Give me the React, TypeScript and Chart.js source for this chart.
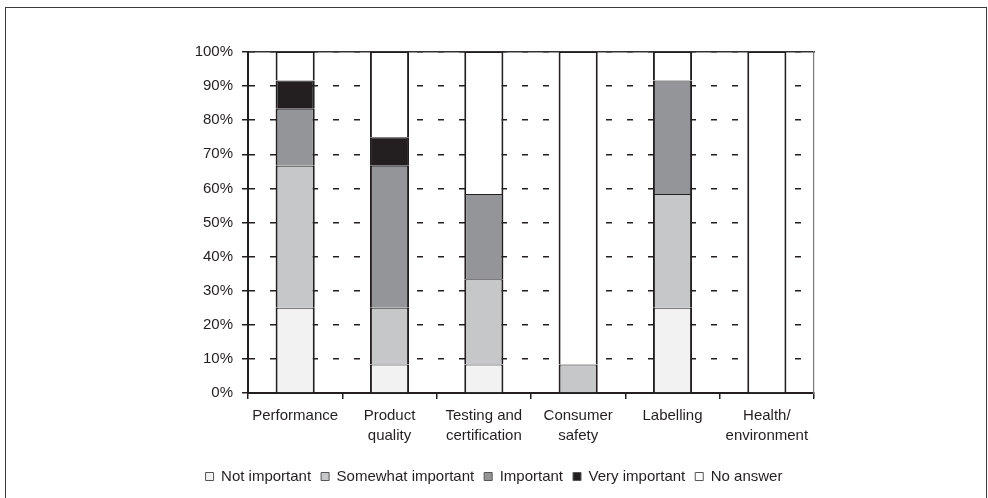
import { useEffect, useRef } from 'react';
import { Chart, registerables } from 'chart.js';

Chart.register(...registerables);

const categories: (string | string[])[] = [
  'Performance',
  ['Product', 'quality'],
  ['Testing and', 'certification'],
  ['Consumer', 'safety'],
  'Labelling',
  ['Health/', 'environment'],
];

const seriesNames = ['Not important', 'Somewhat important', 'Important', 'Very important', 'No answer'];

const notImportant = [25, 8.33, 8.33, 0, 25, 0];
const somewhatImportant = [41.67, 16.67, 25, 8.33, 33.33, 0];
const important = [16.67, 41.67, 25, 0, 33.33, 0];
const veryImportant = [8.33, 8.33, 0, 0, 0, 0];
const noAnswer = [8.33, 25, 41.67, 91.67, 8.34, 100];

const yTicks = [0, 10, 20, 30, 40, 50, 60, 70, 80, 90, 100];

const seriesColors = ['#f1f2f1', '#c6c7c8', '#939598', '#231f20', '#ffffff'];

const INK = '#231f20';
const FONT = "'Liberation Sans', Arial, sans-serif";

export default function App() {
  const canvasRef = useRef<HTMLCanvasElement | null>(null);

  useEffect(() => {
    if (!canvasRef.current) return;
    const values = [notImportant, somewhatImportant, important, veryImportant, noAnswer];
    const chart = new Chart(canvasRef.current, {
      type: 'bar',
      data: {
        labels: categories as any,
        datasets: values.map((data, i) => ({
          label: seriesNames[i],
          data,
          backgroundColor: seriesColors[i],
          borderColor: INK,
          borderWidth: { left: 2, right: 2, top: 1, bottom: 0 },
          borderSkipped: false,
          barPercentage: 0.415,
          categoryPercentage: 1,
          stack: 's',
        })),
      },
      options: {
        animation: false,
        responsive: false,
        maintainAspectRatio: false,
        layout: { padding: { left: 0, right: 0, top: 0, bottom: 4 } },
        plugins: {
          tooltip: { enabled: false },
          legend: {
            position: 'bottom',
            labels: {
              boxWidth: 8,
              boxHeight: 8,
              padding: 10,
              color: INK,
              font: { family: FONT, size: 15 },
              generateLabels: (c: any) => {
                const items = Chart.defaults.plugins.legend.labels.generateLabels(c);
                return items.map((it: any) => ({ ...it, strokeStyle: '#555', lineWidth: 1 }));
              },
            },
          },
        },
        scales: {
          x: {
            type: 'category',
            position: 'bottom',
            stacked: true,
            grid: {
              display: true,
              drawOnChartArea: false,
              drawTicks: true,
              tickLength: 6,
              color: INK,
              lineWidth: 1.5,
            },
            border: { display: true, color: INK, width: 2 },
            ticks: {
              color: INK,
              padding: 7,
              maxRotation: 0,
              autoSkip: false,
              font: { family: FONT, size: 15, lineHeight: 1.33 },
            },
            afterFit: (s: any) => { s.height = 66; },
          },
          x2: {
            type: 'category',
            position: 'top',
            grid: { display: false },
            ticks: { display: false },
            border: { display: true, color: '#333', width: 1.5 },
            afterFit: (s: any) => { s.height = 52; },
          },
          y: {
            type: 'linear',
            position: 'left',
            stacked: true,
            min: 0,
            max: 100,
            afterBuildTicks: (s: any) => { s.ticks = yTicks.map((v) => ({ value: v })); },
            grid: {
              color: INK,
              lineWidth: 1.5,
              tickLength: 6,
              tickColor: INK,
              tickWidth: 1.5,
            },
            border: { display: true, color: INK, width: 2, dash: [6, 15], dashOffset: 0 },
            ticks: {
              color: INK,
              padding: 9,
              font: { family: FONT, size: 15 },
              callback: (v: any) => v + '%',
            },
            afterFit: (s: any) => { s.width = 248; },
          },
          y2: {
            type: 'linear',
            position: 'right',
            min: 0,
            max: 100,
            grid: { display: false },
            ticks: { display: false },
            border: { display: true, color: '#777', width: 1.2 },
            afterFit: (s: any) => { s.width = 174; },
          },
        },
      } as any,
    });
    return () => chart.destroy();
  }, []);

  return (
    <div style={{ position: 'fixed', left: 0, top: 0, width: 988, height: 498, overflow: 'hidden', background: '#fff' }}>
      <div
        style={{
          position: 'absolute',
          left: 5,
          top: 7,
          width: 982,
          height: 600,
          border: '1.5px solid #3a3a3a',
          boxSizing: 'border-box',
        }}
      />
      <canvas ref={canvasRef} width={988} height={498} style={{ position: 'absolute', left: 0, top: 0, width: 988, height: 498 }} />
    </div>
  );
}
